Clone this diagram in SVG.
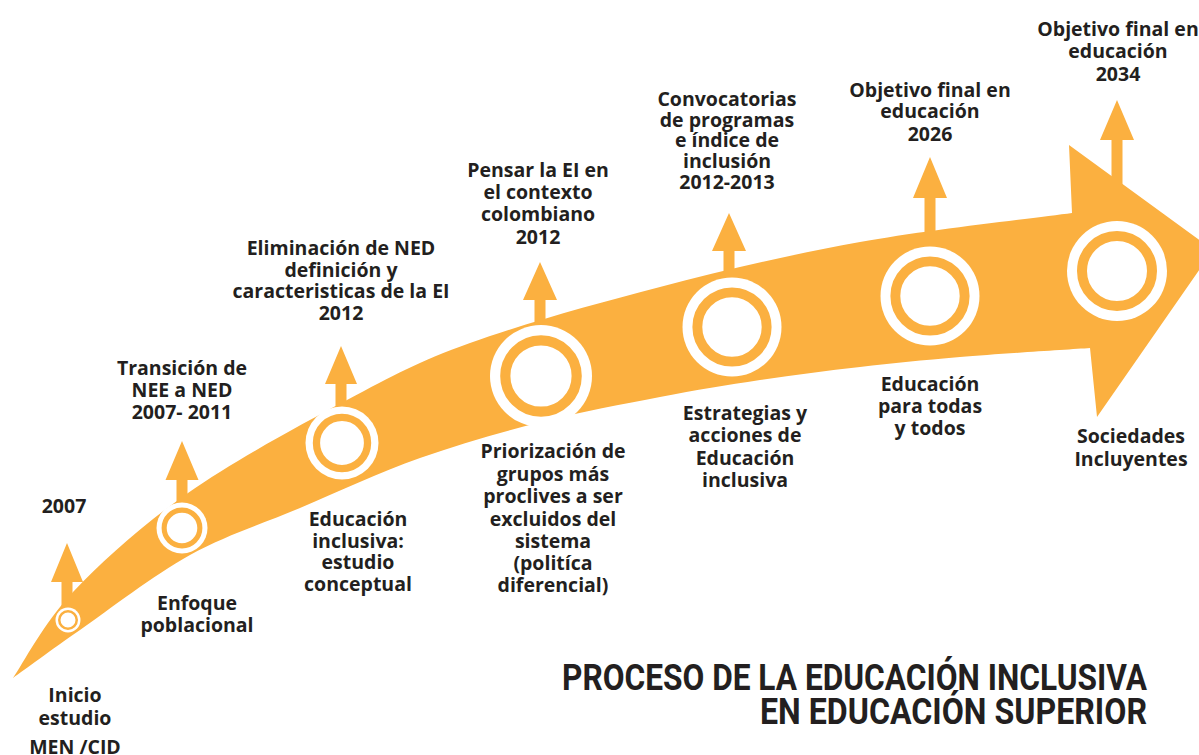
<svg xmlns="http://www.w3.org/2000/svg" width="1199" height="755" viewBox="0 0 1199 755">
<style>
.band{fill:#FBB040}
.arr{fill:#FBB040}
.ow{fill:#FFFFFF}
.ring{fill:none;stroke:#FBB040}
.t{font-family:"Open Sans",Lato,"Liberation Sans",sans-serif;font-weight:700;font-size:19.5px;fill:#231F20;text-anchor:middle}
.title{font-family:Roboto,"Liberation Sans",sans-serif;font-weight:700;font-size:36px;fill:#231F20;text-anchor:end}
</style>
<rect width="1199" height="755" fill="#FFFFFF"/>
<g id="timeline">
<path class="band" d="M13 678 C23 663.7 43.8 622.8 73 592 C102.2 561.2 142.3 525 188 493 C233.7 461 300 425 347 400 C394 375 417.8 361.8 470 343 C522.2 324.2 595 303.8 660 287 C725 270.2 791.3 254.3 860 242 C928.7 229.7 1036.7 217.8 1072 213 L1069 145 L1213 250 L1097 417 L1090 348 C1068.3 349.5 998.3 353.8 960 357 C921.7 360.2 893.3 363.2 860 367 C826.7 370.8 793.3 375 760 380 C726.7 385 696.5 390 660 397 C623.5 404 581 411.8 541 422 C501 432.2 460.2 443.7 420 458 C379.8 472.3 338.3 491.8 300 508 C261.7 524.2 226.7 534.7 190 555 C153.3 575.3 109.5 609.5 80 630 C50.5 650.5 24.2 670 13 678 Z"/>
</g>
<g id="connectors">
<path class="arr" d="M61.5 620 V582 H51 L67 543 L83 582 H72.5 V620 Z"/>
<path class="arr" d="M176.5 528 V480 H165.5 L182 441 L198.5 480 H187.5 V528 Z"/>
<path class="arr" d="M335.5 443 V384 H325 L341 346 L357 384 H346.5 V443 Z"/>
<path class="arr" d="M534.5 376 V300 H523 L540 262 L557 300 H545.5 V376 Z"/>
<path class="arr" d="M723.5 327 V251 H712 L729 213 L746 251 H734.5 V327 Z"/>
<path class="arr" d="M924.5 296 V198 H913 L930 157 L947 198 H935.5 V296 Z"/>
<path class="arr" d="M1111.5 271 V140 H1100 L1117 100 L1134 140 H1122.5 V271 Z"/>
</g>
<g id="n1">
<circle class="ow" cx="68" cy="620" r="12.5"/><circle class="ring" cx="68" cy="620" r="8.75" stroke-width="2.5"/>
<text class="t" x="64" y="513">2007</text>
<text class="t" x="75" y="702">Inicio</text>
<text class="t" x="75" y="725">estudio</text>
<text class="t" x="75" y="754">MEN /CID</text>
</g>
<g id="n2">
<circle class="ow" cx="182" cy="528" r="25.5"/><circle class="ring" cx="182" cy="528" r="17.85" stroke-width="5.1"/>
<text class="t" x="182" y="375">Transición de</text>
<text class="t" x="182" y="397">NEE a NED</text>
<text class="t" x="182" y="419">2007- 2011</text>
<text class="t" x="197" y="610">Enfoque</text>
<text class="t" x="197" y="632">poblacional</text>
</g>
<g id="n3">
<circle class="ow" cx="342" cy="443" r="36.5"/><circle class="ring" cx="342" cy="443" r="25.55" stroke-width="7.3"/>
<text class="t" x="341" y="255">Eliminación de NED</text>
<text class="t" x="341" y="277">definición y</text>
<text class="t" x="341" y="298">caracteristicas de la EI</text>
<text class="t" x="341" y="320">2012</text>
<text class="t" x="358" y="526">Educación</text>
<text class="t" x="358" y="548">inclusiva:</text>
<text class="t" x="358" y="569">estudio</text>
<text class="t" x="358" y="591">conceptual</text>
</g>
<g id="n4">
<circle class="ow" cx="541" cy="376" r="51"/><circle class="ring" cx="541" cy="376" r="35.7" stroke-width="10.2"/>
<text class="t" x="538" y="177">Pensar la EI en</text>
<text class="t" x="538" y="199">el contexto</text>
<text class="t" x="538" y="221">colombiano</text>
<text class="t" x="538" y="244">2012</text>
<text class="t" x="553" y="458">Priorización de</text>
<text class="t" x="553" y="481">grupos más</text>
<text class="t" x="553" y="503">proclives a ser</text>
<text class="t" x="553" y="526">excluidos del</text>
<text class="t" x="553" y="548">sistema</text>
<text class="t" x="553" y="570">(politíca</text>
<text class="t" x="553" y="592">diferencial)</text>
</g>
<g id="n5">
<circle class="ow" cx="732" cy="327" r="49.5"/><circle class="ring" cx="732" cy="327" r="34.65" stroke-width="9.9"/>
<text class="t" x="727" y="106">Convocatorias</text>
<text class="t" x="727" y="127">de programas</text>
<text class="t" x="727" y="147">e índice de</text>
<text class="t" x="727" y="168">inclusión</text>
<text class="t" x="727" y="189">2012-2013</text>
<text class="t" x="745" y="420">Estrategias y</text>
<text class="t" x="745" y="442">acciones de</text>
<text class="t" x="745" y="465">Educación</text>
<text class="t" x="745" y="487">inclusiva</text>
</g>
<g id="n6">
<circle class="ow" cx="930" cy="296" r="49.5"/><circle class="ring" cx="930" cy="296" r="34.65" stroke-width="9.9"/>
<text class="t" x="930" y="97">Objetivo final en</text>
<text class="t" x="930" y="118">educación</text>
<text class="t" x="930" y="141">2026</text>
<text class="t" x="930" y="391">Educación</text>
<text class="t" x="930" y="413">para todas</text>
<text class="t" x="930" y="435">y todos</text>
</g>
<g id="n7">
<circle class="ow" cx="1117" cy="271" r="50"/><circle class="ring" cx="1117" cy="271" r="35" stroke-width="10"/>
<text class="t" x="1118" y="36">Objetivo final en</text>
<text class="t" x="1118" y="58">educación</text>
<text class="t" x="1118" y="81">2034</text>
<text class="t" x="1131" y="443">Sociedades</text>
<text class="t" x="1131" y="466">Incluyentes</text>
</g>
<g id="title">
<text class="title" x="1147" y="690" textLength="585" lengthAdjust="spacingAndGlyphs">PROCESO DE LA EDUCACIÓN INCLUSIVA</text>
<text class="title" x="1147" y="724" textLength="387" lengthAdjust="spacingAndGlyphs">EN EDUCACIÓN SUPERIOR</text>
</g>
</svg>
